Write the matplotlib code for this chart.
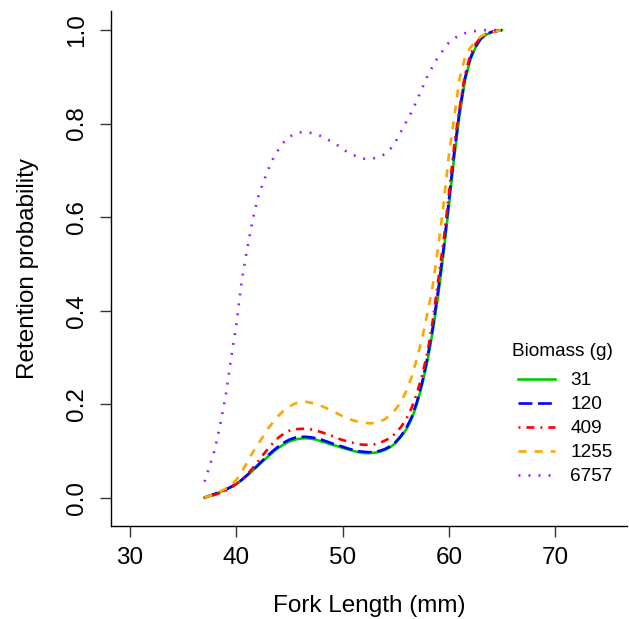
import matplotlib
matplotlib.use("Agg")
import matplotlib.pyplot as plt
import numpy as np

plt.rcParams['font.family'] = ['Liberation Sans', 'DejaVu Sans']
plt.rcParams['lines.scale_dashes'] = False

# fork length (mm)
fork_length = np.arange(37, 65.5, 0.5)

# retention probability for each biomass level
ret_31 = [0.000, 0.004, 0.008, 0.012, 0.017, 0.022, 0.029, 0.037, 0.047, 0.057,
          0.067, 0.078, 0.088, 0.098, 0.107, 0.114, 0.120, 0.124, 0.126, 0.127,
          0.126, 0.124, 0.120, 0.117, 0.113, 0.110, 0.106, 0.103, 0.100, 0.097,
          0.095, 0.095, 0.096, 0.098, 0.102, 0.108, 0.117, 0.130, 0.146, 0.168,
          0.200, 0.242, 0.294, 0.357, 0.433, 0.522, 0.622, 0.727, 0.817, 0.890,
          0.935, 0.962, 0.980, 0.990, 0.995, 0.998, 1.000]
ret_120 = [0.000, 0.004, 0.008, 0.012, 0.017, 0.023, 0.030, 0.038, 0.048, 0.058,
           0.069, 0.080, 0.091, 0.101, 0.110, 0.118, 0.124, 0.128, 0.130, 0.130,
           0.129, 0.127, 0.124, 0.120, 0.116, 0.112, 0.109, 0.105, 0.102, 0.099,
           0.098, 0.097, 0.098, 0.100, 0.104, 0.110, 0.119, 0.132, 0.149, 0.172,
           0.205, 0.248, 0.301, 0.366, 0.444, 0.532, 0.634, 0.738, 0.826, 0.896,
           0.939, 0.965, 0.982, 0.991, 0.996, 0.998, 1.000]
ret_409 = [0.000, 0.003, 0.006, 0.010, 0.015, 0.021, 0.029, 0.038, 0.049, 0.062,
           0.076, 0.091, 0.105, 0.118, 0.129, 0.137, 0.143, 0.146, 0.147, 0.147,
           0.146, 0.143, 0.140, 0.136, 0.132, 0.127, 0.123, 0.120, 0.117, 0.114,
           0.113, 0.113, 0.114, 0.117, 0.122, 0.128, 0.138, 0.151, 0.168, 0.192,
           0.224, 0.262, 0.312, 0.380, 0.465, 0.548, 0.648, 0.752, 0.832, 0.902,
           0.945, 0.970, 0.984, 0.992, 0.996, 0.998, 1.000]
ret_1255 = [0.000, 0.004, 0.008, 0.013, 0.019, 0.027, 0.038, 0.054, 0.075, 0.095,
            0.113, 0.130, 0.148, 0.163, 0.176, 0.187, 0.195, 0.201, 0.204, 0.205,
            0.203, 0.200, 0.196, 0.191, 0.186, 0.180, 0.174, 0.169, 0.165, 0.162,
            0.160, 0.159, 0.159, 0.162, 0.168, 0.177, 0.189, 0.205, 0.228, 0.258,
            0.298, 0.342, 0.395, 0.455, 0.536, 0.627, 0.732, 0.812, 0.895, 0.940,
            0.962, 0.975, 0.986, 0.992, 0.996, 0.998, 1.000]
ret_6757 = [0.034, 0.068, 0.105, 0.158, 0.218, 0.298, 0.370, 0.463, 0.530, 0.590,
            0.640, 0.672, 0.702, 0.727, 0.746, 0.761, 0.772, 0.778, 0.781, 0.782,
            0.780, 0.777, 0.773, 0.767, 0.761, 0.754, 0.746, 0.738, 0.733, 0.728,
            0.725, 0.724, 0.726, 0.729, 0.735, 0.746, 0.762, 0.783, 0.804, 0.825,
            0.850, 0.876, 0.902, 0.923, 0.943, 0.958, 0.973, 0.982, 0.989, 0.993,
            0.996, 0.998, 0.999, 1.000, 1.000, 1.000, 1.000]

labels = ['31', '120', '409', '1255', '6757']
series = [ret_31, ret_120, ret_409, ret_1255, ret_6757]
colors = ['#00CD00', '#0000FF', '#FF0000', '#FFA500', '#A020F0']
dashes = [None, (10, 4), (1.4, 4.3, 5.8, 4.3), (5.8, 5.8), (1.4, 5.8)]

fig = plt.figure(figsize=(6.29, 6.19), dpi=100)
ax = fig.add_axes([111 / 629, 1 - 526 / 619, (627.3 - 111) / 629, (526 - 11) / 619])

for y, lab, c, d in zip(series, labels, colors, dashes):
    if d is None:
        ax.plot(fork_length, y, color=c, lw=1.9, label=lab)
    else:
        ax.plot(fork_length, y, color=c, lw=1.9, label=lab, dashes=d)

ax.set_xlim(28.2, 76.8)
ax.set_ylim(-0.0608, 1.0408)
ax.set_xticks([30, 40, 50, 60, 70])
ax.set_yticks([0.0, 0.2, 0.4, 0.6, 0.8, 1.0])
ax.set_yticklabels(['0.0', '0.2', '0.4', '0.6', '0.8', '1.0'])

for s in ['top', 'right']:
    ax.spines[s].set_visible(False)
for s in ['left', 'bottom']:
    ax.spines[s].set_linewidth(1.0)

ax.tick_params(axis='both', length=8, width=1.0, color='#333333', labelsize=17.5)
ax.tick_params(axis='x', pad=6.8)
ax.tick_params(axis='y', pad=8.3)
for t in ax.get_yticklabels():
    t.set_rotation(90)
    t.set_va('center')

ax.set_xlabel('Fork Length (mm)', fontsize=17.5)
ax.set_ylabel('Retention probability', fontsize=17.5)
ax.xaxis.set_label_coords(0.5, -(606 - 526) / 515)
ax.xaxis.label.set_va('center')
ax.yaxis.set_label_coords(-(111 - 28) / 516.3, 0.5)
ax.yaxis.label.set_va('center')

leg = ax.legend(frameon=False, fontsize=13.7,
                handlelength=1.95, handletextpad=0.8, labelspacing=0.35,
                borderpad=0, borderaxespad=0, loc='upper left',
                bbox_to_anchor=(518 / 629, 1 - 372 / 619), bbox_transform=fig.transFigure)
fig.text(562.5 / 629, 1 - 351.7 / 619, 'Biomass (g)', ha='center', va='center', fontsize=13.7)

fig.savefig('out.png', dpi=100)
